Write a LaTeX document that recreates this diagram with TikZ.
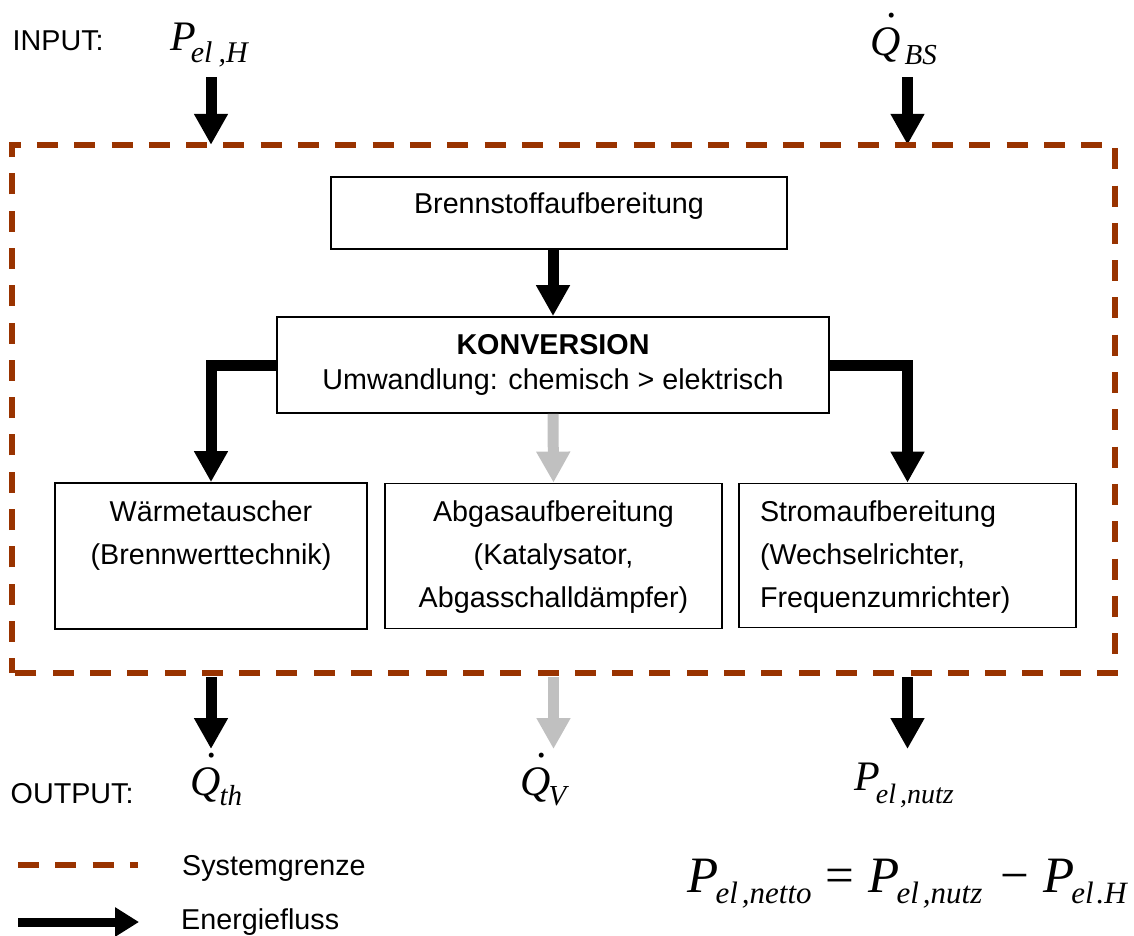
\documentclass[tikz,border=0pt]{standalone}
\usepackage{fontspec}
\setmainfont{Liberation Sans}
\newfontfamily\tms{Liberation Serif}
\usetikzlibrary{arrows.meta}
\definecolor{sysbrown}{RGB}{153,51,0}
\definecolor{lossgray}{RGB}{192,192,192}
\newcommand\msub[3]{\raisebox{-#2}{\fontsize{#1}{#1}\selectfont #3}}
\newcommand\qdot{\rlap{\kern0.4em\raisebox{0.9em}{.}}Q}
\setlength{\tabcolsep}{0pt}
\begin{document}
\begin{tikzpicture}[x=1pt,y=-1pt,
  box/.style={draw, line width=1.8pt, inner sep=0pt, font=\fontsize{28.7}{43}\selectfont},
  flow/.style={line width=11pt, line join=miter, -{Triangle[width=32pt,length=31pt]}},
  sysline/.style={draw=sysbrown, line width=5.5pt, dash pattern=on 21pt off 16.3pt},
  sym/.style={inner sep=0pt, anchor=base west, font=\tms\itshape\fontsize{42}{42}\selectfont},
  lbl/.style={inner sep=0pt, anchor=base west, font=\fontsize{28.7}{34}\selectfont}
]
\useasboundingbox (0,0) rectangle (1134,935);

% system boundary (invisible node)
\node[minimum width=1103pt, minimum height=528pt, inner sep=0pt] (sys) at (563.5,409) {};

% boxes
\node[box, minimum width=456pt, minimum height=72pt, text height=15pt, text depth=15pt] (brenn) at (559,213) {Brennstoffaufbereitung};
\node[box, minimum width=552pt, minimum height=96pt, font=\fontsize{28.7}{35}\selectfont] (konv) at (553,365)
  {\begin{tabular}{c}\textbf{KONVERSION}\\Umwandlung: chemisch > elektrisch\end{tabular}};
\node[box, minimum width=312pt, minimum height=146pt] (waerme) at (211,556)
  {\begin{tabular}{c}Wärmetauscher\\(Brennwerttechnik)\\\mbox{}\end{tabular}};
\node[box, minimum width=337pt, minimum height=145pt] (abgas) at (553.5,556)
  {\begin{tabular}{c}Abgasaufbereitung\\(Katalysator,\\Abgasschalldämpfer)\end{tabular}};
\node[box, minimum width=337pt, minimum height=144pt] (strom) at (907.5,555.5)
  {\makebox[295pt][l]{\begin{tabular}{l}Stromaufbereitung\\(Wechselrichter,\\Frequenzumrichter)\end{tabular}}};

% internal flows
\draw[flow] (konv.north |- brenn.south) -- (konv.north);
\draw[flow] (konv.west) -| (waerme.north);
\draw[flow] (konv.east) -| (strom.north);
\draw[flow, color=lossgray] (konv.south) -- (abgas.north);

% input
\node[lbl] (inlbl) at (12.5,50) {INPUT:};
\node[sym] (pelH) at (170,50) {P\kern-5pt\msub{30pt}{12pt}{el\kern6pt,H}};
\node[sym] (qbs) at (870,55) {\qdot\kern4pt\msub{29pt}{9pt}{BS}};
\draw[flow] (waerme.north |- 0,77) -- (waerme.north |- sys.north);
\draw[flow] (strom.north |- 0,77) -- (strom.north |- sys.north);

% output
\draw[flow] (waerme.south |- 0,677) -- (waerme.south |- 0,749);
\draw[flow, color=lossgray] (abgas.south |- 0,677) -- (abgas.south |- 0,749);
\draw[flow] (strom.south |- 0,677) -- (strom.south |- 0,749);
\node[lbl] (outlbl) at (10.5,803) {OUTPUT:};
\node[sym] (qth) at (190,795) {\qdot\kern-1pt\msub{29pt}{10pt}{th}};
\node[sym] (qv) at (520,795) {\qdot\kern-2pt\msub{29pt}{10pt}{V}};
\node[sym] (pnutz) at (854,790) {P\kern-4pt\msub{28pt}{13pt}{el\kern4pt,nutz}};

% boundary
\draw[sysline, dash phase=6pt] (sys.south west) -- (sys.north west) -- (sys.north east) -- (sys.south east) -- cycle;

% legend
\coordinate (lgA) at (18,865);
\coordinate (lgB) at (138,865);
\draw[sysline] (lgA) -- (lgB);
\node[lbl] (lgS) at (182,875) {Systemgrenze};
\coordinate (lfA) at (18,922);
\coordinate (lfB) at (139,922);
\draw[line width=9pt, -{Triangle[width=28pt,length=24pt]}] (lfA) -- (lfB);
\node[lbl] (lgE) at (181,929.5) {Energiefluss};

% formula
\node[inner sep=0pt, anchor=base east, font=\tms\itshape\fontsize{51}{51}\selectfont] (formel) at (1127,892)
  {P\kern-3pt\msub{31pt}{11pt}{el\kern4pt,netto}\kern14pt{\upshape=}\kern14pt P\kern-3pt\msub{31pt}{11pt}{el\kern4pt,nutz}\kern18pt{\upshape −}\kern14pt P\kern-3pt\msub{31pt}{11pt}{el\kern3pt.H}};
\end{tikzpicture}
\end{document}
